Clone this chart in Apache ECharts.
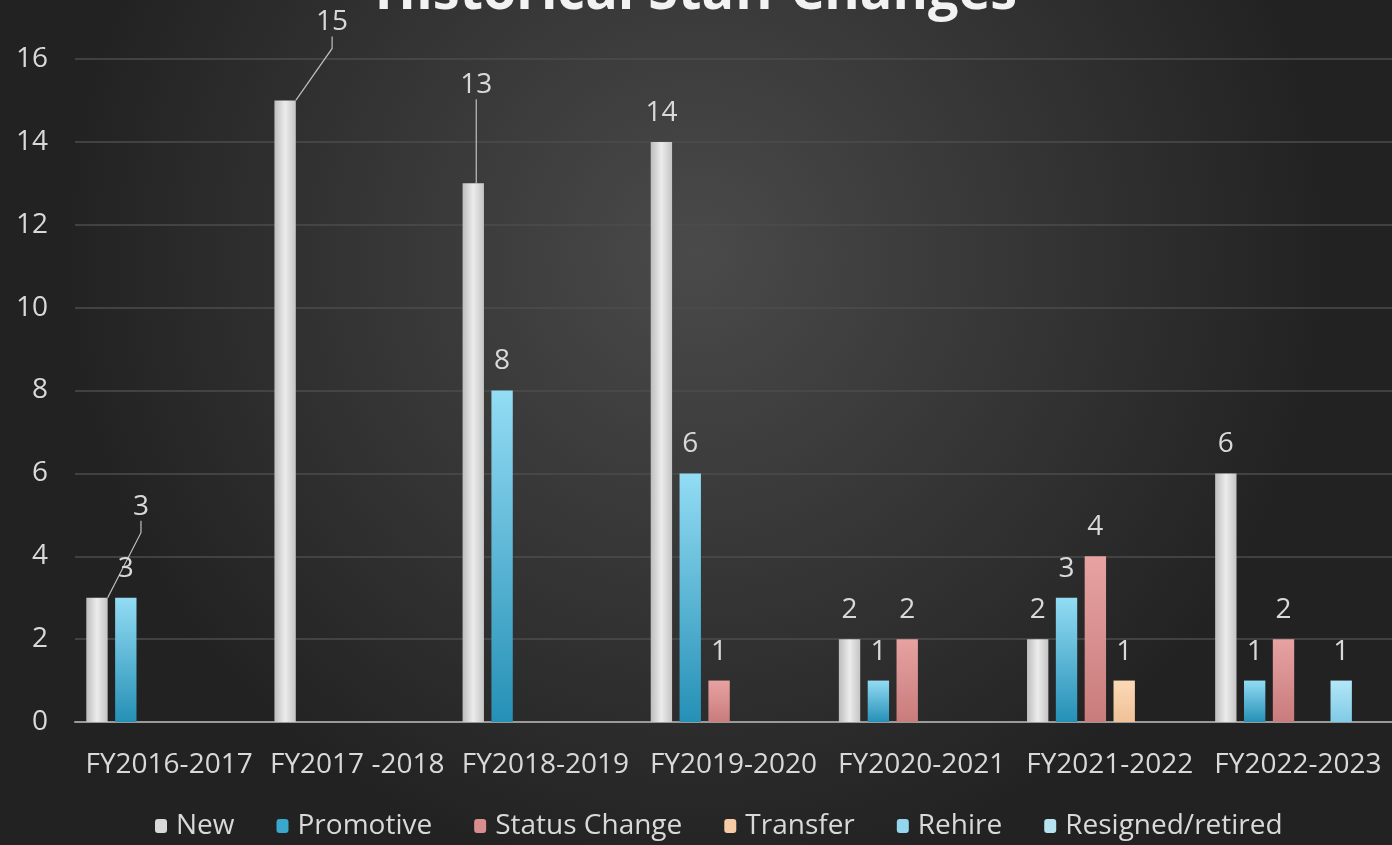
<!DOCTYPE html>
<html><head><meta charset="utf-8">
<script src="https://cdn.jsdelivr.net/npm/echarts@6/dist/echarts.min.js"></script>
<style>html,body{margin:0;padding:0;background:#2b2b2b;}#c{width:1392px;height:845px;}</style>
</head><body><div id="c"></div>
<script>
const categories = ['FY2016-2017','FY2017 -2018','FY2018-2019','FY2019-2020','FY2020-2021','FY2021-2022','FY2022-2023'];
const seriesNames = ['New','Promotive','Status Change','Transfer','Rehire','Resigned/retired'];
const newVals        = [3, 15, 13, 14, 2, 2, 6];
const promotiveVals  = [3, null, 8, 6, 1, 3, 1];
const statusVals     = [null, null, null, 1, 2, 4, 2];
const transferVals   = [null, null, null, null, null, 1, null];
const rehireVals     = [null, null, null, null, null, null, 1];
const resignedVals   = [null, null, null, null, null, null, null];
const yTicks = [0, 2, 4, 6, 8, 10, 12, 14, 16];

const FONT = '"Open Sans", "DejaVu Sans", sans-serif';
const TXT = '#d9d9d9';
function vgrad(a, b){ return new echarts.graphic.LinearGradient(0,0,0,1,[{offset:0,color:a},{offset:1,color:b}]); }
function hgrad(a, b, c){ return new echarts.graphic.LinearGradient(0,0,1,0,[{offset:0,color:a},{offset:0.5,color:b},{offset:1,color:c}]); }
const colors = [
  hgrad('#bdbdbd','#ececec','#c4c4c4'),
  vgrad('#93dcf4','#2590b6'),
  vgrad('#e7a2a2','#c97c7c'),
  vgrad('#fbd9b6','#efc197'),
  vgrad('#b3e6f7','#80cbe6'),
  vgrad('#c8eef6','#9fd9e8')
];
const legendColors = ['#d9d9d9','#3aa7cc','#d88e8e','#f5cca3','#93d6ee','#b6e3ef'];
const allVals = [newVals, promotiveVals, statusVals, transferVals, rehireVals, resignedVals];
// label offsets for leader-line labels of the first series
const moved = {0: {dx: 44, dy: -62}, 1: {dx: 47, dy: -49}, 2: {dx: 3, dy: -69}};

const series = seriesNames.map((name, si) => ({
  name, type: 'bar',
  barCategoryGap: '12%', barGap: '35%',
  data: allVals[si].map((v, i) => {
    if (si === 0 && moved[i]) return {value: v, labelLine: {show: true}};
    return v;
  }),
  itemStyle: {color: colors[si]},
  label: {show: true, position: 'top', distance: 15, color: TXT, fontSize: 28, fontFamily: FONT},
  labelLine: {show: false, lineStyle: {color: '#bfbfbf', width: 1.2}, length2: 12},
  labelLayout: si === 0 ? function(p){ const m = moved[p.dataIndex]; return m ? {dx: m.dx, dy: m.dy} : {}; } : undefined,
  emphasis: {disabled: true}
}));

const chart = echarts.init(document.getElementById('c'));
chart.setOption({
  animation: false,
  backgroundColor: new echarts.graphic.RadialGradient(0.5, 0.3, 0.75, [
    {offset: 0, color: '#4a4a4a'}, {offset: 1, color: '#222222'}
  ]),
  graphic: [{
    type: 'text', left: 'center', top: -33,
    style: {text: 'Historical Staff Changes', fill: '#f2f2f2', font: 'bold 54px ' + FONT,
      shadowColor: 'rgba(0,0,0,0.6)', shadowBlur: 4, shadowOffsetY: 2}
  }],
  grid: {left: 75, right: 0, top: 59, bottom: 123, containLabel: false},
  legend: {
    bottom: 0, left: 150, itemWidth: 12, itemHeight: 14, itemGap: 42,
    textStyle: {color: TXT, fontSize: 28, fontFamily: FONT, padding: [0, 0, 0, 4]},
    data: seriesNames.map((n, i) => ({name: n, itemStyle: {color: legendColors[i]}}))
  },
  xAxis: {
    type: 'category', data: categories,
    axisLine: {lineStyle: {color: '#9a9a9a', width: 2}},
    axisTick: {show: false},
    axisLabel: {color: TXT, fontSize: 28, fontFamily: FONT, margin: 29, interval: 0}
  },
  yAxis: {
    type: 'value', min: yTicks[0], max: yTicks[yTicks.length-1], interval: 2,
    axisLine: {show: false}, axisTick: {show: false},
    axisLabel: {color: TXT, fontSize: 28, fontFamily: FONT, margin: 27},
    splitLine: {lineStyle: {color: '#4d4d4d', width: 1.5}}
  },
  series
});
</script></body></html>
